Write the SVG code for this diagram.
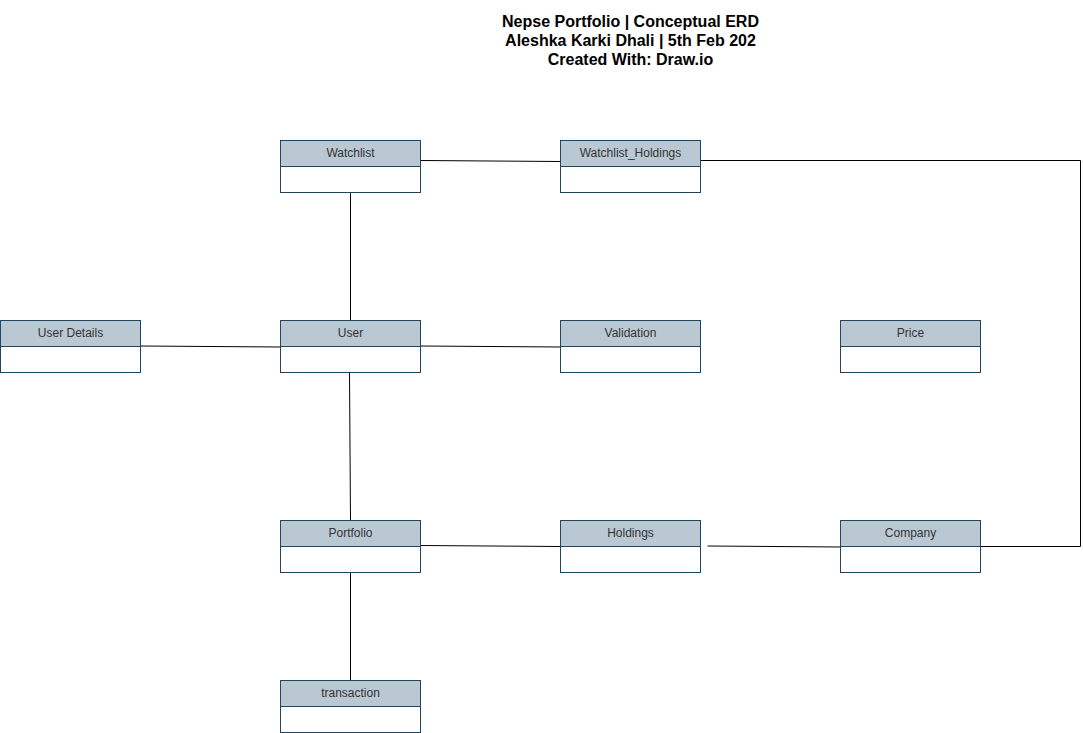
<svg xmlns="http://www.w3.org/2000/svg" width="1083" height="733" viewBox="0 0 1083 733">
<style>
.hd{fill:#bac8d3;stroke:#23445d;stroke-width:1}
.bd{fill:#ffffff;stroke:#23445d;stroke-width:1}
.lb{font-family:"Liberation Sans",Arial,sans-serif;font-size:12px;fill:#333333;text-anchor:middle}
.tt{font-family:"Liberation Sans",Arial,sans-serif;font-size:16px;font-weight:bold;fill:#000000;text-anchor:middle}
.cn{fill:none;stroke:#000000;stroke-width:1}
</style>
<defs>
<g id="box">
<rect class="bd" x="0.5" y="0.5" width="140" height="52"/>
<rect class="hd" x="0.5" y="0.5" width="140" height="26"/>
</g>
</defs>
<rect width="1083" height="733" fill="#ffffff"/>
<g id="title">
<text class="tt" x="630.5" y="27">Nepse Portfolio | Conceptual ERD</text>
<text class="tt" x="630.5" y="46">Aleshka Karki Dhali | 5th Feb 202</text>
<text class="tt" x="630.5" y="65">Created With: Draw.io</text>
</g>
<g id="connectors">
<path class="cn" d="M420.5 160.5 L560.5 161.5"/>
<path class="cn" d="M700.5 160.5 L1080.5 160.5 L1080.5 546.5 L980.5 546.5"/>
<path class="cn" d="M350.5 192.5 L350.5 320.5"/>
<path class="cn" d="M140.5 346 L280.5 347"/>
<path class="cn" d="M420.5 346 L560.5 347"/>
<path class="cn" d="M349.5 372.5 L350.5 520.5"/>
<path class="cn" d="M420.5 545.5 L560.5 546.5"/>
<path class="cn" d="M707.5 546 L840.5 547"/>
<path class="cn" d="M350.5 572.5 L350.5 680.5"/>
</g>
<g id="watchlist"><use href="#box" x="280" y="140"/><text class="lb" x="350.5" y="157">Watchlist</text></g>
<g id="watchlist_holdings"><use href="#box" x="560" y="140"/><text class="lb" x="630.5" y="157">Watchlist_Holdings</text></g>
<g id="user_details"><use href="#box" x="0" y="320"/><text class="lb" x="70.5" y="337">User Details</text></g>
<g id="user"><use href="#box" x="280" y="320"/><text class="lb" x="350.5" y="337">User</text></g>
<g id="validation"><use href="#box" x="560" y="320"/><text class="lb" x="630.5" y="337">Validation</text></g>
<g id="price"><use href="#box" x="840" y="320"/><text class="lb" x="910.5" y="337">Price</text></g>
<g id="portfolio"><use href="#box" x="280" y="520"/><text class="lb" x="350.5" y="537">Portfolio</text></g>
<g id="holdings"><use href="#box" x="560" y="520"/><text class="lb" x="630.5" y="537">Holdings</text></g>
<g id="company"><use href="#box" x="840" y="520"/><text class="lb" x="910.5" y="537">Company</text></g>
<g id="transaction"><use href="#box" x="280" y="680"/><text class="lb" x="350.5" y="697">transaction</text></g>
</svg>
